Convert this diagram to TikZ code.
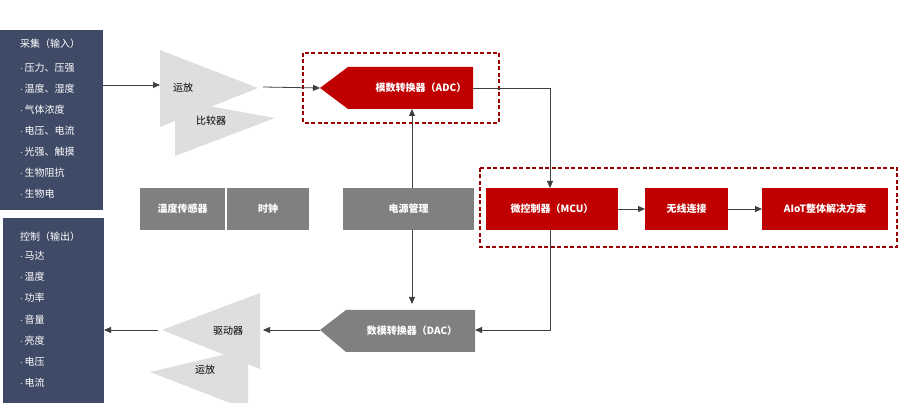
\documentclass[tikz,border=0pt]{standalone}
\usepackage{fontspec}
\setmainfont{Noto Sans CJK SC}
\usetikzlibrary{arrows.meta}
\definecolor{panel}{HTML}{3F4A66}
\definecolor{amp}{HTML}{DEDEDE}
\definecolor{chip}{HTML}{C00000}
\definecolor{box}{HTML}{808080}
\definecolor{wire}{HTML}{404040}
\tikzset{
  lbl/.style={font=\fontsize{10}{12}\selectfont, inner sep=0pt},
  itm/.style={lbl, text=white, anchor=west},
  blk/.style={lbl, font=\fontsize{10}{12}\selectfont\bfseries, text=white},
  wr/.style={wire, line width=0.8pt, -{Triangle[length=7pt,width=6pt]}},
  frame/.style={chip!80!black, line width=1.3pt, dash pattern=on 4pt off 2.5pt}
}
\begin{document}
\begin{tikzpicture}[x=1pt,y=-1pt]
\useasboundingbox (0,0) rectangle (900,403);
% panels
\fill [panel] (0,30) rectangle (103,210);
\fill [panel] (3,218) rectangle (104,403);
\node [itm] (inT) at (20,44) {采集（输入）};
\foreach \t [count=\i] in {压力、压强,温度、湿度,气体浓度,电压、电流,光强、触摸,生物阻抗,生物电}
  \node [itm] (in\i) at (20,47+21*\i) {$\cdot$\,\t};
\node [itm] (outT) at (20,237) {控制（输出）};
\foreach \t [count=\i] in {马达,温度,功率,音量,亮度,电压,电流}
  \node [itm] (out\i) at (20,234+21.3*\i) {$\cdot$\,\t};
\coordinate (inR) at (103,85);
\coordinate (outR) at (104,330);
% amplifiers
\fill [amp] (175,100) -- (275,118) -- (175,156) -- cycle;
\fill [amp] (160,50) -- (258,88) -- (160,127) -- cycle;
\fill [amp] (248,349) -- (150,372) -- (248,410) -- cycle;
\fill [amp] (260,293) -- (162,330) -- (260,369) -- cycle;
\coordinate (opL) at (160,85);
\coordinate (opR) at (263,87);
\coordinate (drL) at (158,330);
\coordinate (drR) at (263,330);
\node [lbl] (op) at (183,88) {运放};
\node [lbl] (cmp) at (211,121) {比较器};
\node [lbl] (drv) at (228,331) {驱动器};
\node [lbl] (op2) at (205,370) {运放};
% converters
\draw [frame] (303,53) rectangle (499,123);
\fill [chip] (320,88) -- (348,67) -- (473,67) -- (473,109) -- (348,109) -- cycle;
\node [blk] (adc) at (421,88) {模数转换器（ADC）};
\coordinate (adcL) at (320,88);
\coordinate (adcR) at (473,88);
\coordinate (adcB) at (412,109);
\fill [box] (320,330) -- (346,310) -- (475,310) -- (475,352) -- (346,352) -- cycle;
\node [blk] (dac) at (412,331) {数模转换器（DAC）};
\coordinate (dacL) at (320,330);
\coordinate (dacR) at (475,330);
\coordinate (dacT) at (412,304);
% gray blocks
\fill [box] (140,188) rectangle (225,230);
\fill [box] (227,188) rectangle (309,230);
\fill [box] (343,188) rectangle (474,230);
\node [blk] (temp) at (182.5,209) {温度传感器};
\node [blk] (clk) at (268,209) {时钟};
\node [blk] (pwr) at (408.5,209) {电源管理};
\coordinate (pwrT) at (412,188);
\coordinate (pwrB) at (412,230);
% red chain
\draw [frame] (480,168) rectangle (897,247);
\fill [chip] (486,188) rectangle (618,230);
\fill [chip] (645,188) rectangle (728,230);
\fill [chip] (762,188) rectangle (888,230);
\node [blk] (mcu) at (552,209) {微控制器（MCU）};
\node [blk] (rf) at (686.5,209) {无线连接};
\node [blk] (aiot) at (825,209) {AIoT整体解决方案};
\coordinate (mcuT) at (550,188);
\coordinate (mcuB) at (550,230);
% wires
\draw [wr] (inR) -- (opL);
\draw [wr] (opR) -- (adcL);
\draw [wr] (adcR) -| (mcuT);
\draw [wr] (pwrT) -- (adcB);
\draw [wr] (pwrB) -- (dacT);
\draw [wr] (618,209) -- (645,209);
\draw [wr] (728,209) -- (762,209);
\draw [wr] (mcuB) |- (dacR);
\draw [wr] (dacL) -- (drR);
\draw [wr] (drL) -- (outR);
\end{tikzpicture}
\end{document}
